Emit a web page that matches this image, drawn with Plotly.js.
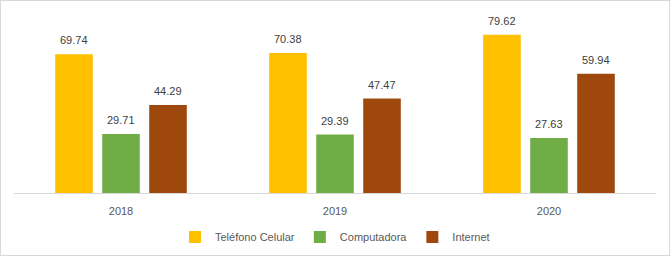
<!DOCTYPE html>
<html><head><meta charset="utf-8">
<script src="https://cdn.plot.ly/plotly-3.0.1.min.js"></script>
<style>
html,body{margin:0;padding:0;background:#fff;}
#wrap{position:relative;width:670px;height:256px;}
#chart{width:670px;height:256px;}
#border{position:absolute;left:0;top:0;width:670px;height:256px;box-sizing:border-box;border:1px solid #d9d9d9;pointer-events:none;}
</style></head>
<body><div id="wrap"><div id="chart"></div><div id="border"></div></div>
<script>
var years = ['2018', '2019', '2020'];
var seriesNames = ['Teléfono Celular', 'Computadora', 'Internet'];
var telefono = [69.74, 70.38, 79.62];
var computadora = [29.71, 29.39, 27.63];
var internet = [44.29, 47.47, 59.94];
var colors = ['#FFC000', '#70AD47', '#9E480E'];

var allVals = [telefono, computadora, internet];
var bargap = 0.341, groupgap = 0.2;
var slot = (1 - bargap) / 3;
var traces = allVals.map(function(v, i){
  return {type:'bar', name:seriesNames[i], x:years, y:v, marker:{color:colors[i]},
          hoverinfo:'none'};
});

var annotations = [];
allVals.forEach(function(v, i){
  v.forEach(function(val, j){
    annotations.push({x:j + (i-1)*slot, y:val, xref:'x', yref:'y', text:val.toFixed(2),
      showarrow:false, yanchor:'bottom', yshift:6,
      font:{family:'Liberation Sans, Arial, sans-serif', size:11, color:'#404040'}});
  });
});

var layout = {
  width:670, height:256,
  margin:{l:14, r:14, t:14, b:63, autoexpand:false},
  paper_bgcolor:'#fff', plot_bgcolor:'#fff',
  font:{family:'Liberation Sans, Arial, sans-serif', size:11, color:'#595959'},
  barmode:'group', bargap:bargap, bargroupgap:groupgap,
  showlegend:true,
  legend:{orientation:'h', x:0.5, xanchor:'center', xref:'paper', yref:'container', y:0.074, yanchor:'middle',
          font:{size:11, color:'#595959'}},
  xaxis:{type:'category', showline:true, linecolor:'#d9d9d9', linewidth:1, automargin:false,
         ticks:'', ticklabelstandoff:8, showgrid:false, zeroline:false, tickfont:{size:11, color:'#595959'}},
  yaxis:{range:[0,90], visible:false, showgrid:false, zeroline:false, automargin:false},
  annotations:annotations
};
Plotly.newPlot('chart', traces, layout, {displayModeBar:false, staticPlot:true});
</script></body></html>
